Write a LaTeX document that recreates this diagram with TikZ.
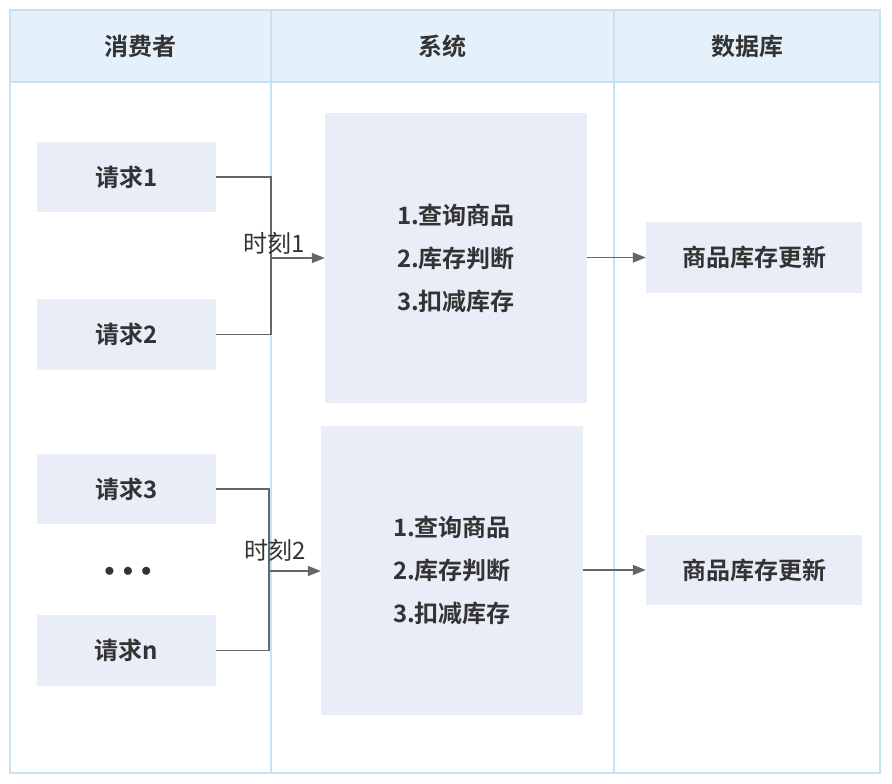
\documentclass[tikz,border=0pt]{standalone}
\usepackage{fontspec}
\setmainfont{Noto Sans CJK SC}
\newfontfamily\cjkb{Noto Sans CJK SC Bold}
\newfontfamily\cjk{Noto Sans CJK SC}
\usetikzlibrary{arrows.meta}
\definecolor{hdrfill}{HTML}{E4F0FA}
\definecolor{frameline}{HTML}{C8E1F3}
\definecolor{boxfill}{HTML}{E9EDF8}
\definecolor{txt}{HTML}{333333}
\definecolor{conn}{HTML}{666666}
\tikzset{
  boxnode/.style={fill=boxfill, draw=none, inner sep=0pt, text=txt, font=\cjkb\fontsize{24}{29}\selectfont},
  hdr/.style={text=txt, font=\cjkb\fontsize{24}{29}\selectfont},
  lbl/.style={text=txt, font=\cjk\fontsize{24}{29}\selectfont, inner sep=0pt},
  conline/.style={draw=conn, line width=1.4pt},
  arr/.style={conline, -{Triangle[length=13pt,width=10pt]}},
}
\begin{document}
\begin{tikzpicture}[x=1pt,y=-1pt]
\useasboundingbox (0,0) rectangle (892,784);
\fill[white] (0,0) rectangle (892,784);
% frame
\fill[hdrfill] (10,10) rectangle (880,82);
\draw[frameline, line width=1.2pt] (10,10) rectangle (880,773);
\draw[frameline, line width=1.2pt] (10,82) -- (880,82);
\draw[frameline, line width=1.2pt] (271,10) -- (271,773);
\draw[frameline, line width=1.2pt] (614,10) -- (614,773);
\node[hdr] (h1) at (140.5,46) {消费者};
\node[hdr] (h2) at (442.5,46) {系统};
\node[hdr] (h3) at (747,46) {数据库};
% requests
\node[boxnode, minimum width=179pt, minimum height=70pt] (r1) at (126.5,177) {请求1};
\node[boxnode, minimum width=179pt, minimum height=71pt] (r2) at (126.5,334.5) {请求2};
\node[boxnode, minimum width=179pt, minimum height=70pt] (r3) at (126.5,489) {请求3};
\node[boxnode, minimum width=179pt, minimum height=71pt] (rn) at (126.5,650.5) {请求n};
\node[text=txt, font=\fontsize{22}{26}\selectfont] (dots) at (128,572) {$\bullet\,\bullet\,\bullet$};
% system boxes
\node[boxnode, minimum width=262pt, minimum height=290pt, align=center] (s1) at (456,258) {1.查询商品\\[14pt]2.库存判断\\[14pt]3.扣减库存};
\node[boxnode, minimum width=262pt, minimum height=289pt, align=center] (s2) at (452,570.5) {1.查询商品\\[14pt]2.库存判断\\[14pt]3.扣减库存};
% db boxes
\node[boxnode, minimum width=216pt, minimum height=71pt] (d1) at (754,257.5) {商品库存更新};
\node[boxnode, minimum width=216pt, minimum height=70pt] (d2) at (754,570) {商品库存更新};
% connectors group 1
\coordinate (j1) at (271,258);
\draw[conline] (r1.east) -| (j1);
\draw[conline] (r2.east) -| (j1);
\draw[arr] (j1) -- (s1.west |- j1);
\node[lbl, anchor=center] (t1) at (274,243) {时刻1};
% connectors group 2
\coordinate (j2) at (269,571);
\draw[conline] (r3.east) -| (j2);
\draw[conline] (rn.east) -| (j2);
\draw[arr] (j2) -- (s2.west |- j2);
\node[lbl, anchor=center] (t2) at (275,550) {时刻2};
% system -> db
\draw[arr] (s1.east |- d1.west) -- (d1.west);
\draw[arr] (s2.east |- d2.west) -- (d2.west);
\end{tikzpicture}
\end{document}
